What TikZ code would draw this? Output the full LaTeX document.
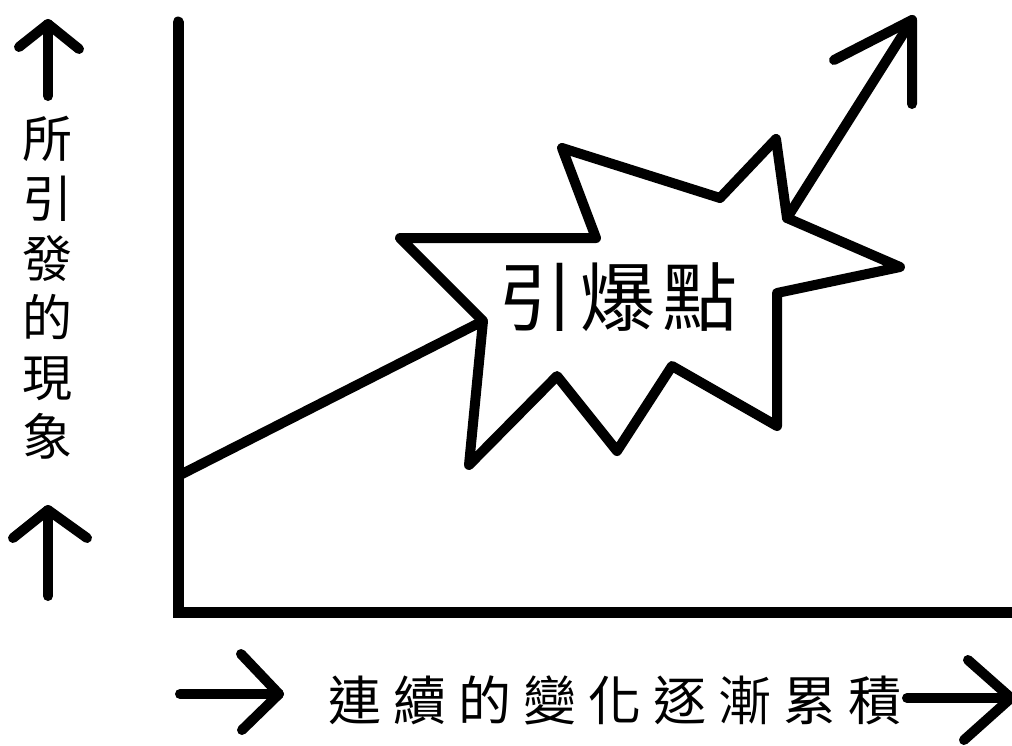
\documentclass[tikz,border=0pt]{standalone}
\usepackage{fontspec}
\newfontfamily\cjk{Noto Sans CJK TC}
\newcommand{\cbox}[2]{\makebox[#1]{#2}}
\begin{document}
\begin{tikzpicture}[x=1pt,y=-1pt,
  stroke/.style={line width=10pt,line cap=round,line join=round},
  axisline/.style={line width=11pt,line cap=round,line join=miter},
  lbl/.style={inner sep=0pt,outer sep=0pt}]
\useasboundingbox (0,0) rectangle (1012,745);
\fill[white] (0,0) rectangle (1012,745);

% axes
\coordinate (ytop) at (178,22);
\coordinate (orig) at (178,612);
\coordinate (xend) at (1030,612);
\draw[axisline] (ytop) -- (orig) -- (xend);

% star burst
\coordinate (s1) at (400,238);
\coordinate (s2) at (596,238);
\coordinate (s3) at (562,148);
\coordinate (s4) at (720,198);
\coordinate (s5) at (776,139);
\coordinate (s6) at (787,218);
\coordinate (s7) at (900,267);
\coordinate (s8) at (777,293);
\coordinate (s9) at (777,426);
\coordinate (s10) at (672,366);
\coordinate (s11) at (617,451);
\coordinate (s12) at (557,376);
\coordinate (s13) at (469,465);
\coordinate (s14) at (483,321);
\draw[stroke,fill=white] (s1) -- (s2) -- (s3) -- (s4) -- (s5) -- (s6) -- (s7)
  -- (s8) -- (s9) -- (s10) -- (s11) -- (s12) -- (s13) -- (s14) -- cycle;

% slow growth line
\coordinate (g0) at (178,476);
\draw[stroke] (g0) -- (s14);

% breakout arrow
\coordinate (atip) at (912,20);
\coordinate (abl) at (834,60);
\coordinate (abr) at (912,104);
\draw[stroke] (s6) -- (atip);
\draw[stroke] (abl) -- (atip) -- (abr);

% left up arrows
\coordinate (u1tip) at (48,24);
\coordinate (u1bot) at (48,96);
\coordinate (u1l) at (19,47);
\coordinate (u1r) at (79,49);
\draw[stroke] (u1bot) -- (u1tip);
\draw[stroke] (u1l) -- (u1tip) -- (u1r);
\coordinate (u2tip) at (48,510);
\coordinate (u2bot) at (48,596);
\coordinate (u2l) at (13,538);
\coordinate (u2r) at (87,538);
\draw[stroke] (u2bot) -- (u2tip);
\draw[stroke] (u2l) -- (u2tip) -- (u2r);

% bottom right arrows
\coordinate (r1start) at (180,694);
\coordinate (r1tip) at (279,694);
\coordinate (r1u) at (241,654);
\coordinate (r1d) at (242,730);
\draw[stroke] (r1start) -- (r1tip);
\draw[stroke] (r1u) -- (r1tip) -- (r1d);
\coordinate (r2start) at (907,698);
\coordinate (r2tip) at (1011,698);
\coordinate (r2u) at (968,660);
\coordinate (r2d) at (964,740);
\draw[stroke] (r2start) -- (r2tip);
\draw[stroke] (r2u) -- (r2tip) -- (r2d);

% texts
\node[lbl,font={\cjk\fontsize{75pt}{75pt}\selectfont}] (boom) at (618,297)
  {\cbox{82.5pt}{引}\cbox{82.5pt}{爆}\cbox{82.5pt}{點}};
\node[lbl,align=center,font={\cjk\fontsize{50pt}{59.6pt}\selectfont}] (ylabel) at (47,288)
  {所\\引\\發\\的\\現\\象};
\node[lbl,font={\cjk\fontsize{53pt}{53pt}\selectfont}] (xlabel) at (615,700)
  {\cbox{65pt}{連}\cbox{65pt}{續}\cbox{65pt}{的}\cbox{65pt}{變}\cbox{65pt}{化}\cbox{65pt}{逐}\cbox{65pt}{漸}\cbox{65pt}{累}\cbox{65pt}{積}};
\end{tikzpicture}
\end{document}
